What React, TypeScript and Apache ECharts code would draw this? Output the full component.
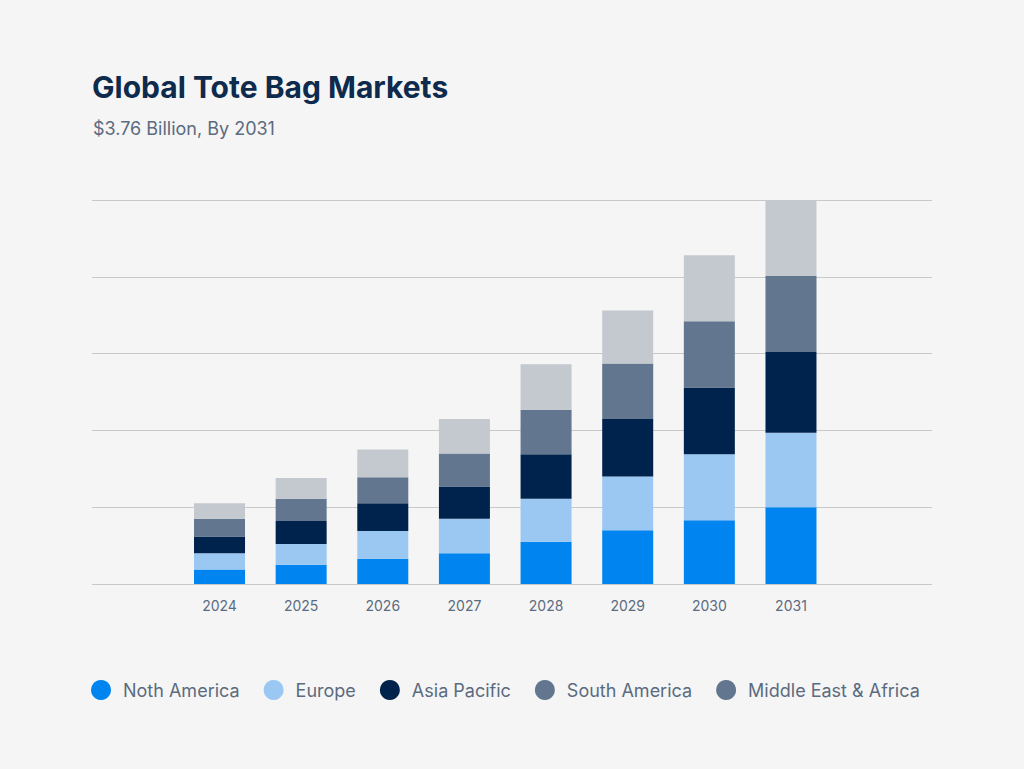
import React, { useEffect, useRef } from "react";
import * as echarts from "echarts";

const years = ["2024", "2025", "2026", "2027", "2028", "2029", "2030", "2031"];
const northAmerica = [0.19, 0.25, 0.33, 0.4, 0.55, 0.7, 0.83, 1.0];
const europe = [0.21, 0.27, 0.36, 0.45, 0.56, 0.7, 0.86, 0.97];
const asiaPacific = [0.22, 0.3, 0.36, 0.42, 0.58, 0.75, 0.87, 1.05];
const southAmerica = [0.23, 0.29, 0.34, 0.43, 0.58, 0.72, 0.86, 0.99];
const middleEastAfrica = [0.2, 0.27, 0.36, 0.45, 0.59, 0.69, 0.86, 0.99];
const seriesNames = ["Noth America", "Europe", "Asia Pacific", "South America", "Middle East & Africa"];
const seriesColors = ["#0084f0", "#9ac8f2", "#00234d", "#62778f", "#c3c9ce"];
const legendColors = ["#0084f0", "#9ac8f2", "#00234d", "#62778f", "#62778f"];

const FONT = "Inter, 'Noto Sans', sans-serif";

export default function App() {
  const ref = useRef<HTMLDivElement>(null);
  useEffect(() => {
    if (!ref.current) return;
    const chart = echarts.init(ref.current, null, { renderer: "svg" });
    const values = [northAmerica, europe, asiaPacific, southAmerica, middleEastAfrica];
    chart.setOption({
      animation: false,
      backgroundColor: "#f5f5f5",
      textStyle: { fontFamily: FONT },
      title: [
        {
          text: "Global Tote Bag Markets",
          left: 92,
          top: 72,
          padding: 0,
          textStyle: { fontFamily: FONT, fontSize: 30, fontWeight: 700, color: "#0e2a4c" },
        },
        {
          text: "$3.76 Billion, By 2031",
          left: 93,
          top: 119,
          padding: 0,
          textStyle: { fontFamily: FONT, fontSize: 18, fontWeight: 400, color: "#5b6b80" },
        },
      ],
      legend: {
        left: 91,
        top: 680,
        padding: 0,
        itemWidth: 20,
        itemHeight: 20,
        itemGap: 24,
        icon: "circle",
        textStyle: { fontFamily: FONT, fontSize: 18, color: "#5b6b80", padding: [0, 0, 0, 7] },
        data: seriesNames.map((n, i) => ({ name: n, itemStyle: { color: legendColors[i] } })),
      },
      grid: [
        { left: 92, right: 92, top: 200, height: 384 },
        { left: 178.7, width: 653.1, top: 200, height: 384 },
      ],
      xAxis: [
        { type: "value", gridIndex: 0, min: 0, max: 1, show: false },
        {
          type: "category",
          gridIndex: 1,
          data: years,
          axisLine: { show: false },
          axisTick: { show: false },
          axisLabel: { color: "#5b6b80", fontSize: 14, margin: 14, fontFamily: FONT },
        },
      ],
      yAxis: [
        {
          type: "value",
          gridIndex: 0,
          min: 0,
          max: 5,
          interval: 1,
          axisLabel: { show: false },
          axisLine: { show: false },
          axisTick: { show: false },
          splitLine: { lineStyle: { color: "#c9c9c9", width: 1.2 } },
        },
        { type: "value", gridIndex: 1, min: 0, max: 5, interval: 1, show: false, splitLine: { show: false } },
      ],
      series: seriesNames.map((name, i) => ({
        name,
        type: "bar",
        stack: "total",
        xAxisIndex: 1,
        yAxisIndex: 1,
        barWidth: 51,
        data: values[i],
        itemStyle: { color: seriesColors[i] },
      })),
    });
    return () => chart.dispose();
  }, []);
  return <div ref={ref} style={{ width: 1024, height: 769, position: "absolute", left: 0, top: 0 }} />;
}
